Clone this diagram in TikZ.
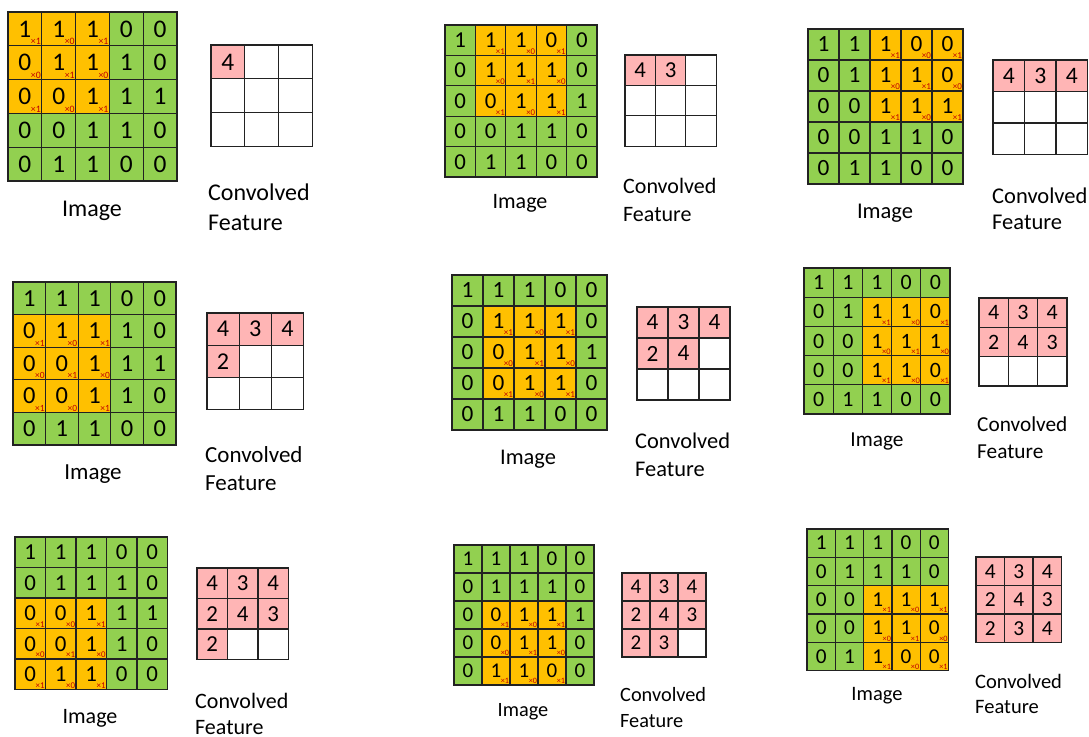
\documentclass[tikz,border=0pt]{standalone}
\usepackage{fontspec}
\setmainfont{Carlito}
\definecolor{imggreen}{HTML}{92D050}
\definecolor{winorange}{HTML}{FFC000}
\definecolor{featpink}{HTML}{FFB5B5}
\definecolor{subred}{HTML}{C00000}
\definecolor{gridline}{HTML}{222222}
\tikzset{
  imgcell/.style={draw=gridline, line width=1.2pt, inner sep=0pt, fill=imggreen, text=black},
  convcell/.style={draw=gridline, line width=1.2pt, inner sep=0pt, fill=white, text=black},
  subnode/.style={inner sep=0.6pt, text=subred, anchor=base east},
  lbl/.style={inner sep=0pt, text=black}
}
\def\imgvals{{1,1,1,0,0, 0,1,1,1,0, 0,0,1,1,1, 0,0,1,1,0, 0,1,1,0,0}}
\def\kervals{{1,0,1, 0,1,0, 1,0,1}}
\def\outvals{{4,3,4, 2,4,3, 2,3,4}}
\begin{document}
\begin{tikzpicture}[x=1pt,y=-1pt]
\useasboundingbox (0,0) rectangle (1089,736);
\foreach \p/\ix/\iy/\ic/\cx/\cy/\cc/\lx/\ly/\fx/\fya/\fyb/\fs in {
  1/8/12/33.8/211/45/33.8/92/209/208/193/223/24,
  2/445/25/30.4/625/55/30.4/520/202/623/187/215/22,
  3/808/29/31/993/60/31.5/885/212/992/197/223/22.5,
  4/13/282/32.6/207/313/32.2/93/472/205/455/483/23,
  5/452/275/31/637/307/31/528/458/635/442/470/22.4,
  6/804/268/29.2/979/298/29.3/877/440/977/425/452/21.3,
  7/15/537/30.5/197/568/30.5/90/717/195/702/728/22,
  8/454/545/28/622/573/28/523/710/620/695/721/20.3,
  9/807/529/28.3/976/557/28.5/877/694/975/682/707/20.5}{
  \pgfmathtruncatemacro\wr{int((\p-1)/3)}
  \pgfmathtruncatemacro\wc{mod(\p-1,3)}
  \pgfmathsetmacro\dfs{0.75*\ic}
  \pgfmathsetmacro\sfs{0.29*\ic}
  \pgfmathsetmacro\cfs{0.75*\cc}
  \pgfmathsetmacro\shift{0.31*\fs}
  % image grid
  \foreach \r in {0,...,4}{
    \foreach \c in {0,...,4}{
      \pgfmathtruncatemacro\val{\imgvals[5*\r+\c]}
      \pgfmathtruncatemacro\inwin{(\r>=\wr)&&(\r<\wr+3)&&(\c>=\wc)&&(\c<\wc+3)}
      \ifnum\inwin=1 \def\cellfill{winorange}\else\def\cellfill{imggreen}\fi
      \node[imgcell, fill=\cellfill, minimum size=\ic pt, font={\fontsize{\dfs}{\dfs}\selectfont}]
        (img\p-\r-\c) at ({\ix+(\c+0.5)*\ic},{\iy+(\r+0.5)*\ic}) {\val};
      \ifnum\inwin=1
        \pgfmathtruncatemacro\kerval{\kervals[3*(\r-\wr)+(\c-\wc)]}
        \node[subnode, font={\fontsize{\sfs}{\sfs}\selectfont}]
          (sub\p-\r-\c) at ([xshift=-0.8pt,yshift=1.8pt]img\p-\r-\c.south east) {×\kerval};
      \fi
    }
  }
  % convolved feature grid
  \foreach \r in {0,...,2}{
    \foreach \c in {0,...,2}{
      \pgfmathtruncatemacro\idx{3*\r+\c}
      \ifnum\idx<\p
        \pgfmathtruncatemacro\oval{\outvals[\idx]}
        \node[convcell, fill=featpink, minimum size=\cc pt, font={\fontsize{\cfs}{\cfs}\selectfont}]
          (conv\p-\r-\c) at ({\cx+(\c+0.5)*\cc},{\cy+(\r+0.5)*\cc}) {\oval};
      \else
        \node[convcell, minimum size=\cc pt]
          (conv\p-\r-\c) at ({\cx+(\c+0.5)*\cc},{\cy+(\r+0.5)*\cc}) {};
      \fi
    }
  }
  % labels
  \node[lbl, anchor=base, font={\fontsize{\fs}{\fs}\selectfont}] (imglabel\p) at (\lx,{\ly+\shift}) {Image};
  \node[lbl, anchor=base west, font={\fontsize{\fs}{\fs}\selectfont}] (convlabel\p) at (\fx,{\fya+\shift}) {Convolved};
  \node[lbl, anchor=base west, font={\fontsize{\fs}{\fs}\selectfont}] (featlabel\p) at (\fx,{\fyb+\shift}) {Feature};
}
\end{tikzpicture}
\end{document}
